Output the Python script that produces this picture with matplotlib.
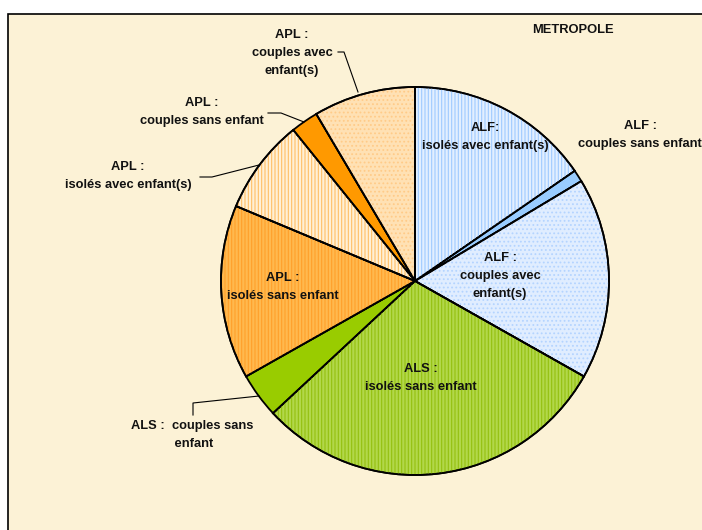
import matplotlib
matplotlib.use("Agg")
import matplotlib.pyplot as plt
from matplotlib.patches import Wedge, Rectangle

# ---- data ----
categories = [
    "ALF: isolés avec enfant(s)",
    "ALF : couples sans enfant",
    "ALF : couples avec enfant(s)",
    "ALS : isolés sans enfant",
    "ALS : couples sans enfant",
    "APL : isolés sans enfant",
    "APL : isolés avec enfant(s)",
    "APL : couples sans enfant",
    "APL : couples avec enfant(s)",
]
values = [15.4, 1.0, 16.8, 29.9, 3.75, 14.5, 7.9, 2.3, 8.5]
labels = [
    "ALF:\nisolés avec enfant(s)",
    "ALF :\ncouples sans enfant",
    "ALF :\ncouples avec\nenfant(s)",
    "ALS :\nisolés sans enfant",
    "ALS :  couples sans\n            enfant",
    "APL :\nisolés sans enfant",
    "APL :\nisolés avec enfant(s)",
    "APL :\ncouples sans enfant",
    "APL :\ncouples avec\nenfant(s)",
]
title = "METROPOLE"

# ---- styles ----
face = ["#e2efff", "#99ccff", "#e0edff", "#b2d84a", "#99cc00",
        "#ffb94f", "#fff0d6", "#ff9900", "#ffe1b4"]
hatch = ["|||||", None, "....", "|||||", None, "|||||", "|||||", None, "...."]
hcol = ["#9fcaff", None, "#b4d4ff", "#94c010", None, "#ffa02a", "#ffbf66", None, "#ffcb88"]

plt.rcParams['font.family'] = ['Liberation Sans', 'DejaVu Sans']
plt.rcParams['hatch.linewidth'] = 0.8

W, H = 702, 530
fig = plt.figure(figsize=(W / 100, H / 100), dpi=100)
fig.patch.set_facecolor("white")
ax = fig.add_axes([0, 0, 1, 1])

cx, cy, R = 415, H - 281, 194
wedges, _ = ax.pie(values, startangle=90, counterclock=False, center=(cx, cy),
                   radius=R, colors=face,
                   wedgeprops=dict(edgecolor="black", linewidth=1.3),
                   frame=True)
ax.set_xlim(0, W)
ax.set_ylim(0, H)
ax.set_aspect("equal")
ax.axis("off")

# frame / background
ax.add_patch(Rectangle((8, -5), W + 10, H - 14 + 5, facecolor="#fcf2d6",
                       edgecolor="black", lw=1.2, zorder=0))

for w, h, hc in zip(wedges, hatch, hcol):
    w.set_zorder(2)
    if h:
        ov = Wedge(w.center, w.r, w.theta1, w.theta2, facecolor="none",
                   edgecolor=hc, hatch=h, lw=0, zorder=2.5)
        ax.add_patch(ov)
        out = Wedge(w.center, w.r, w.theta1, w.theta2, facecolor="none",
                    edgecolor="black", lw=1.3, zorder=3)
        ax.add_patch(out)

fs = 9.3
common = dict(fontsize=fs, fontweight="bold", va="center",
              linespacing=1.62, color="#111111", zorder=5)


def P(x, y):
    return (x, H - y)


# label positions in pixel coordinates (x, y from top)
pos = [(485, 137), (640, 135), (500, 276), (421, 378), (131, 435),
       (283, 287), (128, 176), (202, 112), (292, 53)]
for lab, (x, y) in zip(labels, pos):
    if lab.startswith("ALS :  couples"):
        ax.text(*P(x, y), lab, ha="left", **common)
    else:
        ax.text(*P(x, y), lab, ha="center", **common)

ax.text(*P(573, 30), title, ha="center", **common)

# leader lines
lk = dict(color="black", lw=0.8, zorder=4)
ax.plot(*zip(P(338, 52), P(344, 52), P(358, 92)), **lk)
ax.plot(*zip(P(268, 113), P(281, 113), P(304, 122)), **lk)
ax.plot(*zip(P(200, 177), P(212, 177), P(259, 165)), **lk)
ax.plot(*zip(P(193, 415), P(193, 403), P(259, 396)), **lk)

fig.savefig("out.png", dpi=100, facecolor="white")
